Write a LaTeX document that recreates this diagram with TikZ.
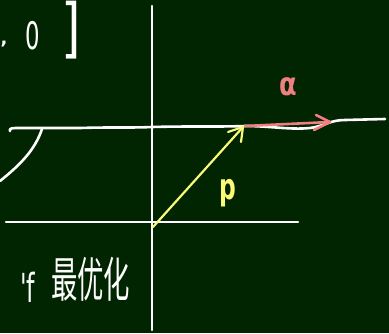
\documentclass[tikz,border=0pt]{standalone}
\usepackage{fontspec}
\newfontfamily\cjk{Noto Sans CJK SC}
\newfontfamily\hand{DejaVu Sans}
\usetikzlibrary{arrows.meta}
\definecolor{bg}{RGB}{1,36,1}
\definecolor{yel}{RGB}{250,250,120}
\definecolor{pnk}{RGB}{240,128,128}
\tikzset{
  chalk/.style={white,line width=2.6pt,line cap=round,line join=round},
  yline/.style={yel,line width=2.2pt,line cap=round,line join=round},
  pline/.style={pnk,line width=2.6pt,line cap=round,line join=round},
  lbl/.style={inner sep=0pt}
}
\begin{document}
\begin{tikzpicture}[x=1pt,y=-1pt]
\fill[bg] (0,0) rectangle (389,333);
\useasboundingbox (0,0) rectangle (389,333);
% axes
\coordinate (vt) at (152,6);
\coordinate (vb) at (152,330);
\draw[chalk] (vt) -- (vb);
\coordinate (hl) at (6,222);
\coordinate (hr) at (298,222);
\draw[chalk] (hl) -- (hr);
% wavy upper line
\draw[chalk] (10,131) .. controls (9,128) and (12,128) .. (20,128)
  -- (80,128) .. controls (110,127) and (130,128) .. (152,127)
  .. controls (190,126) and (220,127) .. (245,126)
  .. controls (270,126) and (290,130) .. (310,128)
  .. controls (325,126) and (330,120) .. (345,120)
  -- (385,119);
% left curve
\draw[chalk] (42,129) .. controls (35,150) and (20,165) .. (0,181);
% pink arrow
\coordinate (ps) at (245,126);
\coordinate (pe) at (330,122);
\draw[pline] (ps) -- (pe);
\draw[pline] (316,115) -- (330,122) -- (314,130);
\node[lbl,pnk,font=\hand\bfseries\fontsize{32}{32}\selectfont,xscale=0.8] (alpha) at (288,87) {α};
% yellow arrow
\coordinate (ys) at (153,227);
\coordinate (ye) at (243,127);
\draw[yline] (ys) -- (ye);
\draw[yline] (228,132) -- (243,127) -- (241,142);
\node[lbl,yel,font=\hand\bfseries\fontsize{36}{36}\selectfont,xscale=0.65] (p) at (228,193) {p};
% top left
\node[lbl,white,font=\hand\bfseries\fontsize{18}{18}\selectfont] (dot) at (4,44) {,};
\node[lbl,white,font=\hand\fontsize{38}{38}\selectfont,xscale=0.6] (zero) at (33,36) {0};
\node[lbl,white,font=\hand\fontsize{50}{50}\selectfont,yscale=1.3] (brk) at (71,30) {]};
% bottom left
\node[lbl,white,font=\hand\fontsize{40}{40}\selectfont,anchor=west,xscale=0.6] (f) at (20,287) {'f};
\node[lbl,white,font=\cjk\fontsize{48}{48}\selectfont,anchor=west,xscale=0.55] (cn) at (51,279) {最优化};
\end{tikzpicture}
\end{document}
